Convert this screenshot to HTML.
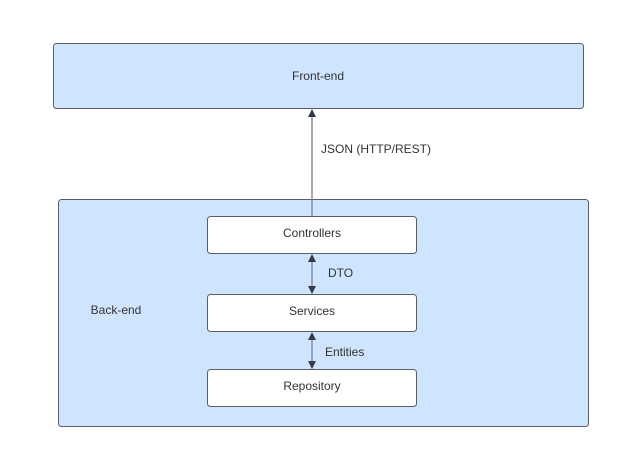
<!DOCTYPE html>
<html><head><style>
body{margin:0;width:630px;height:464px;background:#fff;overflow:hidden;font-family:"Liberation Sans",sans-serif;}
</style></head><body>
<svg width="630" height="464" xmlns="http://www.w3.org/2000/svg" font-family="Liberation Sans, sans-serif" font-size="12" fill="#333">
<rect x="53.5" y="43.5" width="530" height="65" rx="3" fill="#cfe4ff" stroke="#5a5f66"/>
<text x="318" y="80" text-anchor="middle" fill="#333">Front-end</text>
<rect x="58.5" y="199.5" width="530" height="227" rx="3" fill="#cfe4ff" stroke="#5a5f66"/>
<text x="116" y="314" text-anchor="middle">Back-end</text>
<rect x="207.5" y="216.5" width="209" height="37" rx="3" fill="#fff" stroke="#5a5f66"/>
<text x="312" y="237" text-anchor="middle">Controllers</text>
<rect x="207.5" y="294.5" width="209" height="37" rx="3" fill="#fff" stroke="#5a5f66"/>
<text x="312" y="315" text-anchor="middle">Services</text>
<rect x="207.5" y="369.5" width="209" height="37" rx="3" fill="#fff" stroke="#5a5f66"/>
<text x="312" y="390" text-anchor="middle">Repository</text>
<g stroke="#7a7f86" stroke-width="1.3">
<line x1="312" y1="116" x2="312" y2="216"/>
<line x1="312" y1="260" x2="312" y2="288"/>
<line x1="312" y1="338" x2="312" y2="363"/>
</g>
<g fill="#333d4a">
<path d="M308,117 L312,109 L316,117Z"/>
<path d="M308,262 L312,254 L316,262Z"/>
<path d="M308,286 L312,294 L316,286Z"/>
<path d="M308,340 L312,332 L316,340Z"/>
<path d="M308,361 L312,369 L316,361Z"/>
</g>
<text x="321" y="153">JSON (HTTP/REST)</text>
<text x="328" y="277">DTO</text>
<text x="325" y="356">Entities</text>
</svg>
</body></html>
